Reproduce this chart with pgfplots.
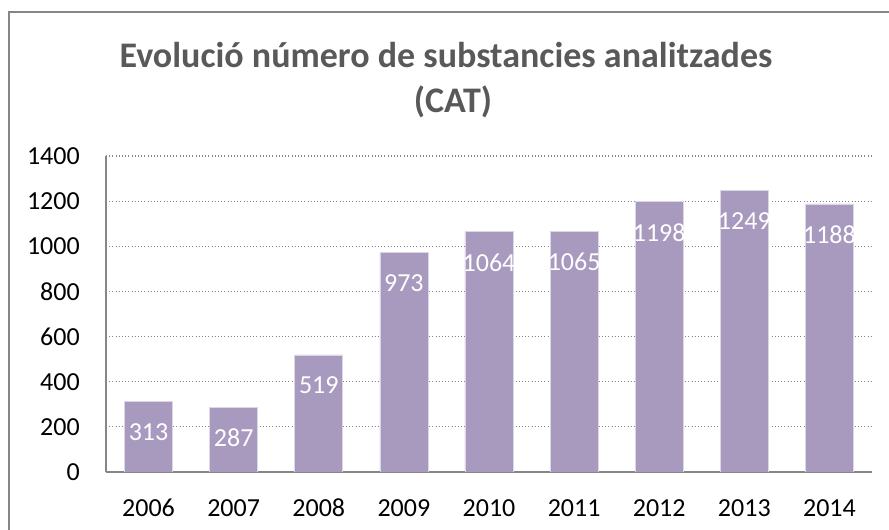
\documentclass[border=0pt]{standalone}
\usepackage{fontspec}
\setmainfont{Carlito}
\usepackage{pgfplots}
\pgfplotsset{compat=1.18}
\definecolor{barc}{RGB}{168,154,190}
\definecolor{axc}{RGB}{134,134,134}
\definecolor{titc}{RGB}{89,89,89}
\begin{document}
\begin{tikzpicture}[x=0.75pt,y=0.75pt]
% pixel frame of the reference, origin bottom left
\useasboundingbox (0,0) rectangle (889,530);
\draw[axc, line width=1.1pt] (9,0) -- (9,518) -- (889,518);
\node[font=\bfseries\fontsize{27}{34}\selectfont, text=titc, anchor=base]
  at (446,462) {Evolució número de substancies analitzades};
\node[font=\bfseries\fontsize{27}{34}\selectfont, text=titc, anchor=base]
  at (453,417) {(CAT)};
\begin{axis}[
    at={(79.5pt,43.5pt)}, anchor=south west,
    scale only axis, width=574.5pt, height=237pt,
    xmin=-0.5, xmax=8.5, ymin=0, ymax=1400,
    xtick={0,...,8},
    xticklabels={2006,2007,2008,2009,2010,2011,2012,2013,2014},
    ytick={0,200,...,1400},
    axis lines=left, axis line style={-, axc, line width=0.9pt},
    major tick length=0pt,
    ymajorgrids, grid style={axc, dotted, line width=0.9pt},
    tick label style={font=\fontsize{19.5}{22}\selectfont, text=black},
    yticklabel style={inner sep=0pt, anchor=east, xshift=-19.5pt},
    xticklabel style={inner sep=0pt, anchor=base, yshift=-33.5pt},
    /pgf/number format/.cd, assume math mode=true, 1000 sep={},
    /pgfplots/.cd,
    ybar, bar width=0.565,
    nodes near coords,
    every node near coord/.append style={anchor=center, yshift=-23pt,
        text=white, font=\fontsize{19.5}{22}\selectfont},
]
\addplot[fill=barc, draw=barc!40, line width=0.5pt] coordinates {
    (0,313) (1,287) (2,519) (3,973) (4,1064)
    (5,1065) (6,1198) (7,1249) (8,1188)
};
\end{axis}
\end{tikzpicture}
\end{document}
